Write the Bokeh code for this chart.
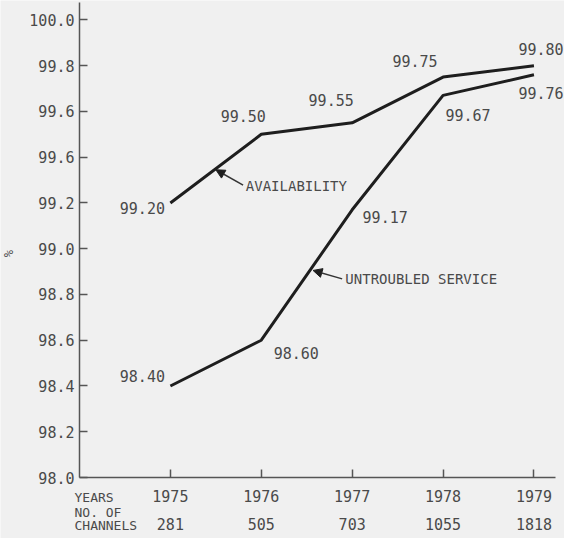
import numpy as np
from bokeh.plotting import figure
from bokeh.models import (FixedTicker, LinearAxis, Label, Arrow, NormalHead, Range1d)
from bokeh.embed import file_html
from bokeh.resources import INLINE

# ---- data ----
years = [1975, 1976, 1977, 1978, 1979]
availability = [99.20, 99.50, 99.55, 99.75, 99.80]
untroubled = [98.40, 98.60, 99.17, 99.67, 99.76]
channels = [281, 505, 703, 1055, 1818]
y_ticks = [98.0, 98.2, 98.4, 98.6, 98.8, 99.0, 99.2, 99.4, 99.6, 99.8, 100.0]
y_tick_labels = ["98.0", "98.2", "98.4", "98.6", "98.8", "99.0", "99.2",
                 "99.6", "99.6", "99.8", "100.0"]

# ---- style ----
BG = "#f0f0f0"
INK = "#1e1e1e"
TXT = "#4a4a4a"
AX = "#555555"
MONO = "DejaVu Sans Mono"

X0, Y0 = 1974.0, 98.0   # axis origin
p = figure(width=564, height=538, output_backend="svg", toolbar_location=None,
           x_range=Range1d(1973.131, 1979.336), y_range=Range1d(97.7334, 100.0848),
           min_border=0, min_border_left=0, min_border_right=0,
           min_border_top=0, min_border_bottom=0,
           x_axis_location=None, y_axis_location=None)
p.background_fill_color = BG
p.border_fill_color = BG
p.outline_line_color = None
p.grid.visible = False

yaxis = LinearAxis(ticker=FixedTicker(ticks=y_ticks),
                   major_label_overrides=dict(zip(y_ticks, y_tick_labels)),
                   fixed_location=X0, bounds=(98.0, 100.076),
                   major_tick_in=8, major_tick_out=0,
                   minor_tick_line_color=None,
                   axis_line_width=1.5, axis_line_color=AX,
                   major_tick_line_color=AX, major_tick_line_width=1.5,
                   major_label_text_font=MONO, major_label_text_font_size="15px",
                   major_label_text_color=TXT, major_label_standoff=5)
p.add_layout(yaxis, "left")

xaxis = LinearAxis(ticker=FixedTicker(ticks=years),
                   major_label_overrides={y: str(y) for y in years},
                   fixed_location=Y0, bounds=(1974.0, 1979.236),
                   major_tick_in=8, major_tick_out=0,
                   minor_tick_line_color=None,
                   axis_line_width=1.5, axis_line_color=AX,
                   major_tick_line_color=AX, major_tick_line_width=1.5,
                   major_label_text_font=MONO, major_label_text_font_size="15px",
                   major_label_text_color=TXT, major_label_standoff=12)
p.add_layout(xaxis, "below")

chaxis = LinearAxis(ticker=FixedTicker(ticks=years),
                    major_label_overrides={y: str(c) for y, c in zip(years, channels)},
                    fixed_location=Y0,
                    major_tick_in=0, major_tick_out=0,
                    minor_tick_line_color=None,
                    axis_line_color=None, major_tick_line_color=None,
                    major_label_text_font=MONO, major_label_text_font_size="15px",
                    major_label_text_color=TXT, major_label_standoff=40)
p.add_layout(chaxis, "below")

p.line(years, availability, line_width=3, line_color=INK, line_join="round")
p.line(years, untroubled, line_width=3, line_color=INK, line_join="round")

avail_off = [(-28, -5), (-18, 18), (-21, 23), (-28, 16), (7, 17)]
untr_off = [(-28, 10), (35, -13), (33, -7), (25, -20), (7, -18)]
for xs, ys, offs in ((years, availability, avail_off), (years, untroubled, untr_off)):
    for xv, yv, (dx, dy) in zip(xs, ys, offs):
        p.add_layout(Label(x=xv, y=yv, text=f"{yv:.2f}", x_offset=dx, y_offset=dy,
                           text_align="center", text_baseline="middle",
                           text_font=MONO, text_font_size="15px", text_color=TXT))

# series annotations with arrows
p.add_layout(Arrow(end=NormalHead(size=9, fill_color=INK, line_color=INK),
                   x_start=1975.80, y_start=99.278, x_end=1975.50, y_end=99.345,
                   line_width=1.5, line_color="#333333"))
p.add_layout(Label(x=1975.83, y=99.273, text="AVAILABILITY", text_align="left",
                   text_baseline="middle", text_font=MONO, text_font_size="14px",
                   text_color=TXT))
p.add_layout(Arrow(end=NormalHead(size=9, fill_color=INK, line_color=INK),
                   x_start=1976.89, y_start=98.868, x_end=1976.57, y_end=98.905,
                   line_width=1.5, line_color="#333333"))
p.add_layout(Label(x=1976.925, y=98.868, text="UNTROUBLED SERVICE", text_align="left",
                   text_baseline="middle", text_font=MONO, text_font_size="14px",
                   text_color=TXT))

# row titles and unit
for txt, dy in (("YEARS", -20), ("NO. OF", -35), ("CHANNELS", -48)):
    p.add_layout(Label(x=X0, y=Y0, x_offset=-5, y_offset=dy, text=txt,
                       text_align="left", text_baseline="middle",
                       text_font=MONO, text_font_size="13px", text_color=TXT))
p.add_layout(Label(x=X0, y=99.0, x_offset=-70, y_offset=-5, text="%", angle=np.pi / 2,
                   text_align="center", text_baseline="middle",
                   text_font=MONO, text_font_size="12px", text_color=TXT))

open("out.html", "w").write(file_html(p, INLINE))
